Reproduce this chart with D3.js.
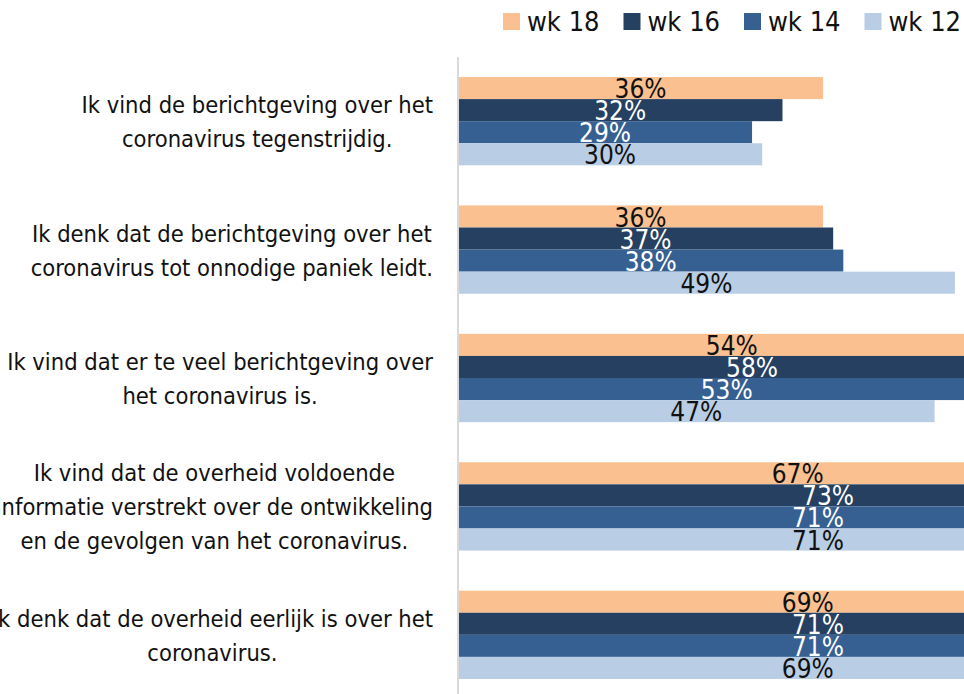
<!DOCTYPE html>
<html>
<head>
<meta charset="utf-8">
<script src="https://cdn.jsdelivr.net/npm/d3@7"></script>
<style>
  html, body { margin: 0; padding: 0; background: #fff; }
  svg { display: block; }
  text { font-family: "DejaVu Sans Condensed", "Liberation Sans Narrow", sans-serif; }
</style>
</head>
<body>
<svg id="chart" width="964" height="694"></svg>
<script>
// statements, already split into lines as in the picture
const categories = [
  ["Ik vind de berichtgeving over het", "coronavirus tegenstrijdig."],
  ["Ik denk dat de berichtgeving over het", "coronavirus tot onnodige paniek leidt."],
  ["Ik vind dat er te veel berichtgeving over", "het coronavirus is."],
  ["Ik vind dat de overheid voldoende", "informatie verstrekt over de ontwikkeling", "en de gevolgen van het coronavirus."],
  ["Ik denk dat de overheid eerlijk is over het", "coronavirus."]
];
const seriesNames = ["wk 18", "wk 16", "wk 14", "wk 12"];
const wk18 = [36, 36, 54, 67, 69];
const wk16 = [32, 37, 58, 73, 71];
const wk14 = [29, 38, 53, 71, 71];
const wk12 = [30, 49, 47, 71, 69];

const colors = {
  "wk 18": "#FAC090",
  "wk 16": "#254061",
  "wk 14": "#366092",
  "wk 12": "#B9CDE5"
};
const labelColors = {
  "wk 18": "#111",
  "wk 16": "#fff",
  "wk 14": "#fff",
  "wk 12": "#111"
};

const svg = d3.select("#chart"),
  width = +svg.attr("width"),
  height = +svg.attr("height"),
  axisX = 458,
  labelRight = 433;

const values = [wk18, wk16, wk14, wk12];
const data = categories.map(function (c, i) {
  return {
    idx: i,
    lines: c,
    bars: seriesNames.map(function (s, j) {
      return { series: s, value: values[j][i] };
    })
  };
});

const x = d3.scaleLinear().domain([0, 100]).range([axisX, axisX + 1014]);
const y0 = d3.scaleBand()
  .domain(d3.range(categories.length))
  .range([57, 699])
  .paddingInner(0.3125)
  .paddingOuter(0.156);
const y1 = d3.scaleBand().domain(seriesNames).range([0, y0.bandwidth()]);

// bars
const groups = svg.append("g").selectAll("g")
  .data(data)
  .enter().append("g")
  .attr("transform", function (d) { return "translate(0," + y0(d.idx) + ")"; });

groups.selectAll("rect")
  .data(function (d) { return d.bars; })
  .enter().append("rect")
  .attr("x", x(0))
  .attr("y", function (d) { return y1(d.series); })
  .attr("width", function (d) { return x(d.value) - x(0); })
  .attr("height", y1.bandwidth())
  .attr("fill", function (d) { return colors[d.series]; });

groups.selectAll("text")
  .data(function (d) { return d.bars; })
  .enter().append("text")
  .attr("x", function (d) { return (x(0) + x(d.value)) / 2; })
  .attr("y", function (d) { return y1(d.series) + y1.bandwidth() - 1; })
  .attr("text-anchor", "middle")
  .style("font-size", "26px")
  .attr("fill", function (d) { return labelColors[d.series]; })
  .text(function (d) { return d.value + "%"; });

// vertical axis line
svg.append("line")
  .attr("x1", axisX).attr("x2", axisX)
  .attr("y1", 57).attr("y2", height)
  .attr("stroke", "#d9d9d9")
  .attr("stroke-width", 2);

// category labels: lines centred, block pushed against the axis
const lineGap = 34;
data.forEach(function (d) {
  const g = svg.append("g");
  const n = d.lines.length;
  const cy = y0(d.idx) + y0.bandwidth() / 2;
  const texts = d.lines.map(function (line, k) {
    return g.append("text")
      .attr("y", cy + (k - (n - 1) / 2) * lineGap + 9)
      .attr("text-anchor", "middle")
      .style("font-size", "23.5px")
      .attr("fill", "#111")
      .text(line);
  });
  const maxW = d3.max(texts, function (t) { return t.node().getComputedTextLength(); });
  texts.forEach(function (t) { t.attr("x", labelRight - maxW / 2); });
});

// legend
const legend = svg.append("g").selectAll("g")
  .data(seriesNames)
  .enter().append("g")
  .attr("transform", function (d, i) { return "translate(" + (503 + i * 120.5) + ",13)"; });

legend.append("rect")
  .attr("width", 17).attr("height", 17)
  .attr("fill", function (d) { return colors[d]; });

legend.append("text")
  .attr("x", 24).attr("y", 18)
  .style("font-size", "27px")
  .attr("fill", "#111")
  .text(function (d) { return d; });
</script>
</body>
</html>
